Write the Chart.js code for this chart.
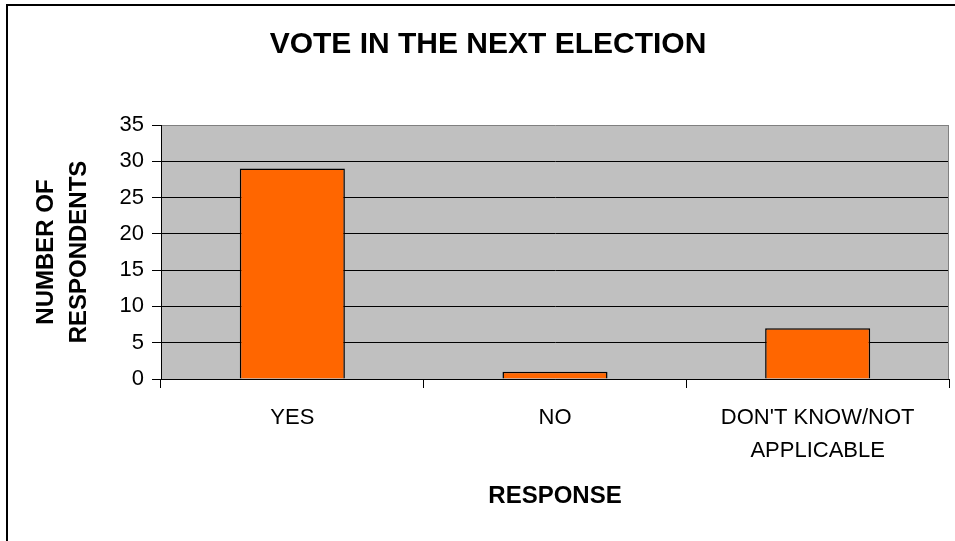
<!DOCTYPE html>
<html>
<head>
<meta charset="utf-8">
<script src="https://cdn.jsdelivr.net/npm/chart.js@4.4.1/dist/chart.umd.min.js"></script>
<style>
  html, body { margin: 0; padding: 0; background: #fff; }
  #wrap { width: 955px; height: 541px; position: relative; }
</style>
</head>
<body>
<div id="wrap"><canvas id="chart"></canvas></div>
<script>
const categories = ['YES', 'NO', ["DON'T KNOW/NOT", 'APPLICABLE']];
const respondents = [29, 1, 7];
const yMax = 35;
const yStep = 5;

const FONT = "Arial, 'Liberation Sans', sans-serif";

// grey plot background + the top/left frame of the sheet
const plotFrame = {
  id: 'plotFrame',
  beforeDraw(chart) {
    const { ctx, chartArea: a } = chart;
    ctx.save();
    ctx.fillStyle = '#c0c0c0';
    ctx.fillRect(a.left, a.top, a.right - a.left, a.bottom - a.top);
    ctx.strokeStyle = '#000';
    ctx.lineWidth = 2;
    ctx.beginPath();
    ctx.moveTo(7, chart.height);
    ctx.lineTo(7, 5);
    ctx.lineTo(chart.width, 5);
    ctx.stroke();
    ctx.restore();
  },
  beforeDatasetsDraw(chart) {
    const { ctx, chartArea: a } = chart;
    ctx.save();
    ctx.strokeStyle = '#808080';
    ctx.lineWidth = 1;
    ctx.beginPath();
    ctx.moveTo(a.right - 0.5, a.top);
    ctx.lineTo(a.right - 0.5, a.bottom);
    ctx.stroke();
    ctx.restore();
  }
};

new Chart(document.getElementById('chart').getContext('2d'), {
  type: 'bar',
  data: {
    labels: categories,
    datasets: [{
      data: respondents,
      backgroundColor: '#ff6600',
      borderColor: '#000',
      borderWidth: 1.5,
      barPercentage: 0.4,
      categoryPercentage: 1
    }]
  },
  options: {
    responsive: true,
    maintainAspectRatio: false,
    animation: false,
    layout: { padding: { left: 27, right: 6, top: 0, bottom: 0 } },
    plugins: {
      legend: { display: false },
      tooltip: { enabled: false },
      title: {
        display: true,
        text: 'VOTE IN THE NEXT ELECTION',
        color: '#000',
        font: { family: FONT, size: 30, weight: 'bold', lineHeight: 1.2 },
        padding: { top: 26.5, bottom: 62.5 }
      }
    },
    scales: {
      x: {
        afterFit(scale) { scale.height = 162; },
        border: { display: true, color: '#000', width: 1 },
        grid: { offset: true, drawOnChartArea: false, drawTicks: true, tickLength: 9, color: '#000' },
        ticks: {
          color: '#000',
          padding: 13.5,
          maxRotation: 0,
          autoSkip: false,
          font: { family: FONT, size: 22, lineHeight: '33px' }
        },
        title: {
          display: true,
          text: 'RESPONSE',
          color: '#000',
          font: { family: FONT, size: 24, weight: 'bold', lineHeight: 1.2 },
          padding: { top: 0, bottom: 30.6 }
        }
      },
      y: {
        min: 0,
        max: yMax,
        afterFit(scale) { scale.width = 134; },
        border: { display: true, color: '#000', width: 1 },
        grid: {
          color: ctx => (ctx.tick && ctx.tick.value === yMax ? '#808080' : '#000'),
          tickColor: '#000',
          lineWidth: 1,
          tickLength: 9,
          drawTicks: true
        },
        ticks: {
          stepSize: yStep,
          color: '#000',
          padding: 8,
          font: { family: FONT, size: 22 }
        },
        title: {
          display: true,
          text: ['NUMBER OF', 'RESPONDENTS'],
          color: '#000',
          font: { family: FONT, size: 24, weight: 'bold', lineHeight: '33px' },
          padding: { top: 2.5, bottom: 0 }
        }
      }
    }
  },
  plugins: [plotFrame]
});
</script>
</body>
</html>
